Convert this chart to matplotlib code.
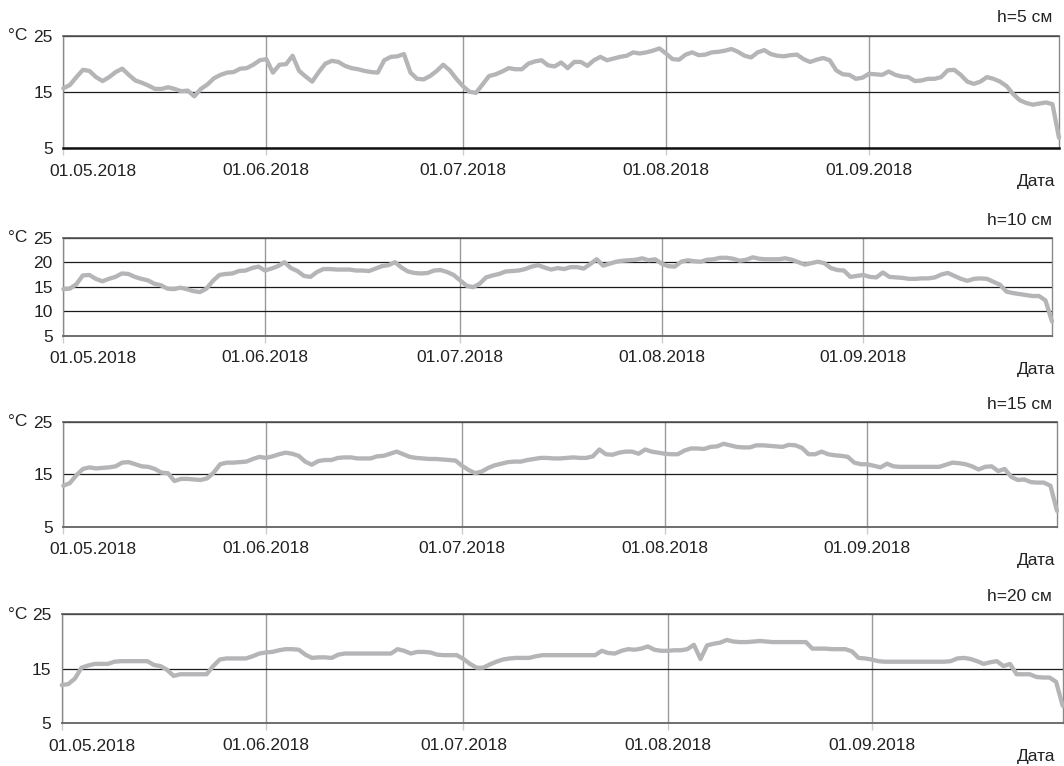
import matplotlib
matplotlib.use('Agg')
import matplotlib.pyplot as plt
import matplotlib.dates as mdates
import pandas as pd

plt.rcParams['font.family'] = ['Liberation Sans', 'DejaVu Sans']

# ---------------- data ----------------
start_date = '2018-05-01'
end_date = '2018-09-30'
depth_labels = ['h=5 см', 'h=10 см', 'h=15 см', 'h=20 см']
x_label = 'Дата'
unit_label = '°C'
month_ticks = ['2018-05-01', '2018-06-01', '2018-07-01', '2018-08-01', '2018-09-01']
month_tick_labels = ['01.05.2018', '01.06.2018', '01.07.2018', '01.08.2018', '01.09.2018']
y_ticks = [[5, 15, 25], [5, 10, 15, 20, 25], [5, 15, 25], [5, 15, 25]]

t_h5 = [15.6, 16.2, 17.6, 18.9, 18.7, 17.6, 16.9, 17.6, 18.5, 19.1,
        18.0, 17.0, 16.6, 16.1, 15.5, 15.5, 15.8, 15.5, 15.1, 15.2,
        14.2, 15.5, 16.3, 17.4, 18.0, 18.4, 18.5, 19.1, 19.2, 19.8,
        20.6, 20.8, 18.4, 19.8, 19.9, 21.4, 18.7, 17.7, 16.8, 18.5,
        20.0, 20.5, 20.3, 19.6, 19.2, 19.0, 18.7, 18.5, 18.4, 20.6,
        21.2, 21.3, 21.7, 18.4, 17.3, 17.2, 17.8, 18.7, 19.8, 18.8,
        17.3, 16.0, 15.0, 14.8, 16.3, 17.8, 18.1, 18.6, 19.2, 19.0,
        19.0, 20.0, 20.4, 20.6, 19.7, 19.5, 20.2, 19.2, 20.3, 20.3,
        19.6, 20.6, 21.2, 20.6, 20.9, 21.2, 21.4, 22.0, 21.8, 22.0,
        22.3, 22.7, 21.8, 20.8, 20.7, 21.6, 22.0, 21.5, 21.6, 22.0,
        22.1, 22.3, 22.6, 22.1, 21.4, 21.1, 22.0, 22.4, 21.7, 21.4,
        21.3, 21.5, 21.6, 20.8, 20.3, 20.7, 21.0, 20.6, 18.8, 18.1,
        18.0, 17.3, 17.5, 18.2, 18.1, 18.0, 18.6, 18.0, 17.7, 17.6,
        16.9, 17.0, 17.3, 17.3, 17.6, 18.8, 18.9, 18.0, 16.8, 16.4,
        16.8, 17.6, 17.3, 16.8, 16.0, 14.6, 13.5, 13.0, 12.7, 12.9,
        13.1, 12.8, 6.8]

t_h10 = [14.5, 14.6, 15.5, 17.3, 17.4, 16.6, 16.1, 16.6, 17.0, 17.7,
         17.6, 17.0, 16.6, 16.3, 15.6, 15.3, 14.6, 14.5, 14.8, 14.5,
         14.1, 13.9, 14.6, 16.2, 17.4, 17.6, 17.7, 18.2, 18.3, 18.8,
         19.1, 18.3, 18.7, 19.2, 20.0, 18.8, 18.2, 17.2, 17.0, 18.0,
         18.6, 18.6, 18.5, 18.5, 18.5, 18.3, 18.3, 18.2, 18.7, 19.2,
         19.4, 20.0, 18.9, 18.1, 17.8, 17.7, 17.8, 18.3, 18.4, 18.0,
         17.4, 16.3, 15.2, 14.9, 15.6, 16.9, 17.3, 17.6, 18.1, 18.2,
         18.3, 18.6, 19.1, 19.4, 18.9, 18.5, 18.8, 18.6, 19.0, 19.0,
         18.7, 19.6, 20.6, 19.3, 19.7, 20.1, 20.3, 20.4, 20.5, 20.8,
         20.4, 20.6, 19.7, 19.2, 19.1, 20.1, 20.4, 20.2, 20.1, 20.5,
         20.6, 20.9, 20.9, 20.7, 20.3, 20.5, 21.0, 20.7, 20.6, 20.6,
         20.6, 20.8, 20.5, 20.0, 19.5, 19.8, 20.1, 19.8, 18.8, 18.4,
         18.3, 17.0, 17.2, 17.4, 17.0, 16.9, 17.9, 17.0, 16.9, 16.8,
         16.6, 16.6, 16.7, 16.7, 16.9, 17.5, 17.8, 17.2, 16.6, 16.2,
         16.6, 16.7, 16.6, 16.0, 15.4, 14.0, 13.7, 13.5, 13.3, 13.1,
         13.1, 12.2, 7.9]

t_h15 = [12.8, 13.3, 14.8, 16.0, 16.3, 16.1, 16.2, 16.3, 16.5, 17.2,
         17.3, 16.9, 16.5, 16.4, 16.0, 15.3, 15.2, 13.7, 14.1, 14.1,
         14.0, 13.9, 14.2, 15.3, 16.9, 17.2, 17.2, 17.3, 17.4, 17.9,
         18.3, 18.1, 18.4, 18.8, 19.1, 18.9, 18.5, 17.4, 16.8, 17.5,
         17.7, 17.7, 18.1, 18.2, 18.2, 18.0, 18.0, 18.0, 18.4, 18.5,
         18.9, 19.3, 18.8, 18.3, 18.1, 18.0, 17.9, 17.9, 17.8, 17.7,
         17.6, 16.6, 15.8, 15.2, 15.5, 16.2, 16.7, 17.0, 17.3, 17.4,
         17.4, 17.7, 17.9, 18.1, 18.1, 18.0, 18.0, 18.1, 18.2, 18.1,
         18.1, 18.4, 19.7, 18.8, 18.7, 19.1, 19.3, 19.3, 18.9, 19.7,
         19.3, 19.1, 18.9, 18.8, 18.8, 19.5, 19.9, 19.9, 19.8, 20.2,
         20.3, 20.8, 20.5, 20.2, 20.1, 20.1, 20.5, 20.5, 20.4, 20.3,
         20.2, 20.6, 20.5, 20.0, 18.8, 18.8, 19.3, 18.8, 18.6, 18.5,
         18.3, 17.2, 16.9, 16.9, 16.6, 16.3, 17.0, 16.5, 16.4, 16.4,
         16.4, 16.4, 16.4, 16.4, 16.4, 16.8, 17.2, 17.1, 16.9, 16.5,
         15.9, 16.4, 16.5, 15.6, 16.0, 14.5, 13.9, 14.0, 13.5, 13.4,
         13.4, 12.8, 8.0]

t_h20 = [12.0, 12.2, 13.2, 15.2, 15.6, 15.9, 15.9, 15.9, 16.3, 16.4,
         16.4, 16.4, 16.4, 16.4, 15.7, 15.5, 14.8, 13.7, 14.0, 14.0,
         14.0, 14.0, 14.0, 15.5, 16.7, 16.9, 16.9, 16.9, 16.9, 17.3,
         17.8, 18.0, 18.1, 18.4, 18.6, 18.6, 18.5, 17.6, 17.0, 17.1,
         17.1, 17.0, 17.6, 17.8, 17.8, 17.8, 17.8, 17.8, 17.8, 17.8,
         17.8, 18.6, 18.3, 17.8, 18.1, 18.1, 18.0, 17.6, 17.5, 17.5,
         17.5, 16.8, 15.9, 15.2, 15.2, 15.8, 16.3, 16.7, 16.9, 17.0,
         17.0, 17.0, 17.3, 17.5, 17.5, 17.5, 17.5, 17.5, 17.5, 17.5,
         17.5, 17.5, 18.3, 17.9, 17.8, 18.3, 18.6, 18.5, 18.7, 19.1,
         18.5, 18.3, 18.3, 18.4, 18.4, 18.6, 19.4, 16.8, 19.3, 19.6,
         19.8, 20.3, 20.0, 19.9, 19.9, 20.0, 20.1, 20.0, 19.9, 19.9,
         19.9, 19.9, 19.9, 19.9, 18.7, 18.7, 18.7, 18.6, 18.6, 18.6,
         18.2, 17.0, 16.9, 16.7, 16.4, 16.3, 16.3, 16.3, 16.3, 16.3,
         16.3, 16.3, 16.3, 16.3, 16.3, 16.4, 16.9, 17.0, 16.8, 16.4,
         15.9, 16.2, 16.4, 15.5, 15.9, 14.0, 14.0, 14.0, 13.5, 13.4,
         13.4, 12.6, 8.2]

series = [t_h5, t_h10, t_h15, t_h20]

# ---------------- layout (pixels of a 1064x766 canvas) ----------------
W, H = 1064, 766
# left, right, top, bottom in pixels
boxes = [(63.3, 1059.0, 35.5, 148.0),
         (63.3, 1052.0, 237.7, 335.7),
         (63.3, 1057.0, 421.7, 526.7),
         (61.7, 1062.7, 614.3, 723.3)]
bottom_spine_colors = ['#111111', '#6e6e6e', '#6e6e6e', '#6e6e6e']

LINE_COLOR = '#b5b5b8'
TEXT_COLOR = '#222222'
FS = 12.5

fig = plt.figure(figsize=(W / 100, H / 100), dpi=100)

for i, (vals, lab) in enumerate(zip(series, depth_labels)):
    l, r, t, b = boxes[i]
    ax = fig.add_axes([l / W, 1 - b / H, (r - l) / W, (b - t) / H])
    dates = pd.date_range(start_date, periods=len(vals), freq='D')
    ax.plot(dates, vals, color=LINE_COLOR, lw=3.1, solid_joinstyle='round',
            solid_capstyle='round', zorder=3, clip_on=False)

    ax.set_xlim(pd.Timestamp(start_date), pd.Timestamp(end_date))
    ax.set_ylim(5, 25)
    ax.set_yticks(y_ticks[i])
    ax.set_yticklabels([str(v) for v in y_ticks[i]])
    tick_dates = pd.to_datetime(month_ticks)
    ax.set_xticks(tick_dates)
    ax.set_xticklabels([''] + month_tick_labels[1:])

    # grid
    ax.grid(axis='y', color='#1a1a1a', lw=0.9, zorder=1)
    ax.grid(axis='x', color='#9a9a9a', lw=1.0, zorder=1)
    ax.set_axisbelow(True)

    for side in ['left', 'right', 'top']:
        ax.spines[side].set_color('#8a8a8a')
        ax.spines[side].set_linewidth(1.0)
    ax.spines['top'].set_color('#555555')
    ax.spines['top'].set_linewidth(1.2)
    ax.spines['bottom'].set_color(bottom_spine_colors[i])
    ax.spines['bottom'].set_linewidth(1.8 if i == 0 else 1.4)

    ax.tick_params(axis='x', length=5, width=1.0, color='#cccccc',
                   labelsize=FS, labelcolor=TEXT_COLOR, pad=5.5)
    ax.tick_params(axis='y', length=0, labelsize=FS, labelcolor=TEXT_COLOR, pad=7.6)

    # first date label is shifted right of its tick (as in the original)
    ax.annotate(month_tick_labels[0], xy=(tick_dates[0], 0),
                xycoords=('data', 'axes fraction'),
                xytext=(30, -23), textcoords='offset pixels',
                ha='center', va='center', fontsize=FS, color=TEXT_COLOR)

    # unit label
    ax.annotate(unit_label, xy=(0, 1), xycoords='axes fraction',
                xytext=(8 - l, 0), textcoords='offset pixels',
                ha='left', va='center', fontsize=FS, color=TEXT_COLOR)

    # depth label (top right)
    ax.annotate(lab, xy=(1, 1), xycoords='axes fraction',
                xytext=(1052 - r, 17.5), textcoords='offset pixels',
                ha='right', va='center', fontsize=FS, color=TEXT_COLOR)

    # axis title (bottom right)
    ax.annotate(x_label, xy=(1, 0), xycoords='axes fraction',
                xytext=(1055 - r, -33.5), textcoords='offset pixels',
                ha='right', va='center', fontsize=FS, color=TEXT_COLOR)

fig.savefig('out.png', dpi=100)
